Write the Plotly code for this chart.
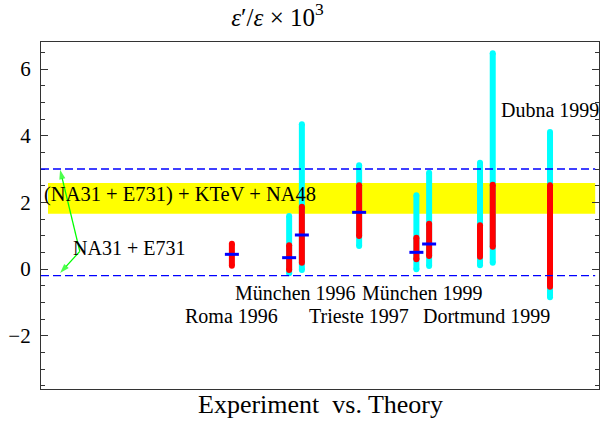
import plotly.graph_objects as go

# ---------------- data ----------------
group_labels = ["Roma 1996", "München 1996", "Trieste 1997", "München 1999", "Dortmund 1999", "Dubna 1999"]
group_pos = [1, 2, 3, 4, 5, 6]
label_y = [-1.42, -0.71, -1.42, -0.71, -1.42, 4.78]

# individual theoretical estimates (x position, ranges)
est_pos = [1.0, 1.9, 2.1, 3.0, 3.9, 4.1, 4.9, 5.1, 6.0]
cyan_lo = [None, -0.13, -0.03, 0.69, -0.01, 0.09, 0.11, 0.19, -0.85]
cyan_hi = [None, 1.59, 4.34, 3.11, 2.21, 2.89, 3.19, 6.47, 4.11]
red_lo = [0.10, -0.03, 0.19, 0.99, 0.29, 0.39, 0.37, 0.67, -0.53]
red_hi = [0.76, 0.71, 1.87, 2.51, 0.94, 1.36, 1.31, 2.53, 2.51]
central = [0.44, 0.34, 1.02, 1.70, 0.50, 0.75, None, None, None]

# experimental averages
world_lo, world_hi = 1.66, 2.58      # (NA31 + E731) + KTeV + NA48
old_lo, old_hi = -0.2, 3.0           # NA31 + E731

# pointer from the "NA31 + E731" label to the two dashed lines
arrow_tail = (-1.39, 0.53)
arrow_heads_y = [2.98, -0.12]
arrow_head_x = -1.70

FONT = "Liberation Serif"
CYAN, RED, BLUE, YELLOW, GREEN = "#00FFFF", "#FF0000", "#0000FF", "#FFFF00", "#00FF00"
BAR_W = 6
TICK_HALF = 0.11


def segs(pos, lo, hi):
    xs, ys = [], []
    for p, a, b in zip(pos, lo, hi):
        if a is None or b is None:
            continue
        xs += [p, p, None]
        ys += [a, b, None]
    return xs, ys


fig = go.Figure()

cx, cy = segs(est_pos, cyan_lo, cyan_hi)
fig.add_trace(go.Scatter(x=cx, y=cy, mode="lines+markers",
                         line=dict(color=CYAN, width=BAR_W),
                         marker=dict(color=CYAN, size=BAR_W, symbol="circle"),
                         hoverinfo="skip", showlegend=False))
rx, ry = segs(est_pos, red_lo, red_hi)
fig.add_trace(go.Scatter(x=rx, y=ry, mode="lines+markers",
                         line=dict(color=RED, width=BAR_W),
                         marker=dict(color=RED, size=BAR_W, symbol="circle"),
                         hoverinfo="skip", showlegend=False))

bx, by = [], []
for p, c in zip(est_pos, central):
    if c is None:
        continue
    bx += [p - TICK_HALF, p + TICK_HALF, None]
    by += [c, c, None]
fig.add_trace(go.Scatter(x=bx, y=by, mode="lines",
                         line=dict(color=BLUE, width=3),
                         hoverinfo="skip", showlegend=False))

# green arrows
for hy in arrow_heads_y:
    fig.add_trace(go.Scatter(x=[arrow_tail[0], arrow_head_x], y=[arrow_tail[1], hy],
                             mode="lines+markers",
                             line=dict(color=GREEN, width=1.3),
                             marker=dict(symbol=["circle", "arrow"], size=[0, 10],
                                         angleref="previous", color=GREEN,
                                         line=dict(width=0)),
                             hoverinfo="skip", showlegend=False, cliponaxis=False))

# yellow band and dashed lines
fig.add_shape(type="rect", xref="x", yref="y", x0=-1.89, x1=6.71,
              y0=world_lo, y1=world_hi, fillcolor=YELLOW, line=dict(width=0), layer="below")
for yv in (old_lo, old_hi):
    fig.add_shape(type="line", xref="x", yref="y", x0=-2, x1=6.71, y0=yv, y1=yv,
                  line=dict(color=BLUE, width=1.3, dash="8px,4px"), layer="above")

annotations = []
for lab, p, yv in zip(group_labels, group_pos, label_y):
    annotations.append(dict(x=p, y=yv, xref="x", yref="y", text=lab, showarrow=False,
                            font=dict(family=FONT, size=20, color="black"),
                            xanchor="center", yanchor="middle"))

annotations.append(dict(x=0.18, y=2.23, xref="x", yref="y",
                        text="(NA31 + E731) + KTeV + NA48", showarrow=False,
                        font=dict(family=FONT, size=20.5, color="black"),
                        xanchor="center", yanchor="middle"))
annotations.append(dict(x=-0.61, y=0.63, xref="x", yref="y",
                        text="NA31 + E731", showarrow=False,
                        font=dict(family=FONT, size=20, color="black"),
                        xanchor="center", yanchor="middle"))

# x-axis title
annotations.append(dict(x=0.5, y=-0.045, xref="paper", yref="paper",
                        text="Experiment\u00a0\u00a0vs. Theory", showarrow=False,
                        font=dict(family=FONT, size=26, color="black"),
                        xanchor="center", yanchor="middle"))

fig.update_layout(
    width=600, height=424,
    margin=dict(l=41, r=1, t=42, b=35),
    paper_bgcolor="white", plot_bgcolor="white",
    title=dict(text="<i>ε</i>′/<i>ε</i> × 10<sup>3</sup>", x=277.5 / 600, xanchor="center",
               y=1 - 17 / 424, yanchor="middle", font=dict(family=FONT, size=25, color="black")),
    annotations=annotations,
    showlegend=False,
)
fig.update_xaxes(range=[-2, 6.77], showline=True, linecolor="#333", linewidth=1.3, mirror=True,
                 showgrid=False, zeroline=False, showticklabels=False, ticks="")
fig.update_yaxes(range=[-3.6, 6.81], tick0=0, dtick=2, ticks="inside", ticklen=7, tickcolor="#333",
                 showline=True, linecolor="#333", linewidth=1.3, mirror="ticks",
                 minor=dict(dtick=0.5, tick0=0, ticks="inside", ticklen=4, tickcolor="#333"),
                 showgrid=False, zeroline=False, ticklabelstandoff=5,
                 tickfont=dict(family=FONT, size=21, color="black"))

fig.write_html("out.html", config={"displayModeBar": False},
               post_script="document.body.style.margin='0';document.body.style.padding='0';")
